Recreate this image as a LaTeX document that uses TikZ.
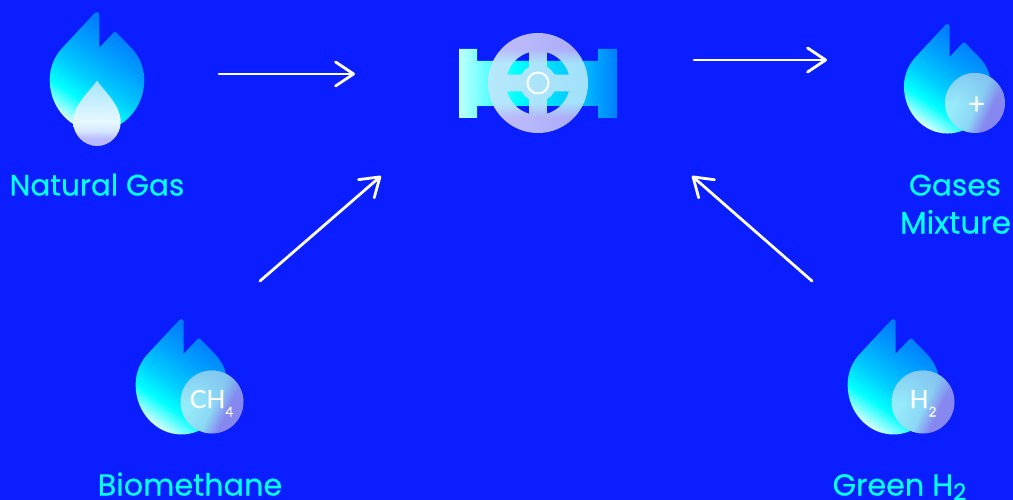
\documentclass[tikz,border=0pt]{standalone}
\usepackage{fontspec}
\setmainfont{Poppins}[FakeBold=0.6]
\newfontfamily\thinfont{Lato}[FakeBold=0.2]
\usetikzlibrary{arrows.meta,fadings}
\definecolor{bgblue}{RGB}{10,30,255}
\definecolor{labelcyan}{RGB}{0,255,255}
\definecolor{paleflame}{RGB}{215,255,255}
\definecolor{lowflame}{RGB}{0,205,255}
\definecolor{midflame}{RGB}{0,160,255}
\definecolor{topflame}{RGB}{0,125,255}
\definecolor{bodymid}{RGB}{0,190,255}
\definecolor{dropa}{RGB}{185,185,255}
\definecolor{dropc}{RGB}{215,232,255}
\definecolor{dropd}{RGB}{230,248,255}
\definecolor{drope}{RGB}{165,230,255}
\definecolor{bubblea}{RGB}{150,235,250}
\definecolor{bubbleb}{RGB}{140,215,245}
\definecolor{bubblec}{RGB}{135,135,240}
\definecolor{bubbletop}{RGB}{120,175,235}
\definecolor{bodypale}{RGB}{190,255,255}
\definecolor{wheelhi}{RGB}{170,170,250}
\definecolor{wheelmid}{RGB}{160,225,250}
\pgfdeclarehorizontalshading{flameshade}{100bp}{
 color(0bp)=(paleflame);
 color(24bp)=(paleflame);
 color(35bp)=(labelcyan);
 color(45bp)=(lowflame);
 color(58bp)=(midflame);
 color(70bp)=(topflame);
 color(100bp)=(topflame)}
\pgfdeclareverticalshading{dropshade}{100bp}{
 color(0bp)=(dropa);
 color(30bp)=(dropa);
 color(37bp)=(dropc);
 color(44bp)=(dropd);
 color(75bp)=(drope);
 color(100bp)=(drope)}
\pgfdeclarehorizontalshading{bubbleshade}{100bp}{
 color(0bp)=(bubblea);
 color(34bp)=(bubblea);
 color(52bp)=(bubbleb);
 color(64bp)=(bubblec);
 color(100bp)=(bubblec)}
\pgfdeclarehorizontalshading{bodyshade}{100bp}{
 color(0bp)=(bodypale);
 color(25bp)=(bodypale);
 color(43bp)=(labelcyan);
 color(64bp)=(bodymid);
 color(75bp)=(topflame);
 color(100bp)=(topflame)}
\pgfdeclareverticalshading{wheelshade}{100bp}{
 color(0bp)=(wheelhi);
 color(33bp)=(wheelhi);
 color(40bp)=(wheelmid);
 color(60bp)=(wheelmid);
 color(67bp)=(wheelhi);
 color(100bp)=(wheelhi)}
\tikzfading[name=fadeleft,left color=transparent!75,right color=transparent!100]
\tikzfading[name=fadetop,top color=transparent!45,bottom color=transparent!100,middle color=transparent!100]
\tikzset{
 flamebody/.pic={\shade[shading=flameshade,shading angle=56]
   (-2,67.3) .. controls (-1,68.3) and (2.3,68.5) .. (2.3,65) -- (2.3,32.3) -- (16.5,47.3)
   .. controls (17.3,48.3) and (18.7,48.3) .. (19.5,47.3) -- (34.7,31.7)
   .. controls (42.5,23.5) and (47.3,12.5) .. (47.3,0)
   .. controls (47.3,-28) and (26,-51) .. (0,-51)
   .. controls (-26,-51) and (-47.3,-28) .. (-47.3,0)
   .. controls (-47.3,12.5) and (-42.5,24.5) .. (-33.6,33.3) -- cycle;},
 bubble/.style={circle,minimum size=#1,inner sep=0pt,shading=bubbleshade,shading angle=-25,text=white},
 flowarrow/.style={draw=white,line width=2.8pt,line cap=round,line join=round,-{Straight Barb[length=18pt,width=24pt,line width=2.8pt,round]}},
 gaslabel/.style={text=labelcyan,font=\fontsize{#1}{36}\selectfont,anchor=base,inner sep=0pt},
 bubbletext/.style={text=white,font=\thinfont\fontsize{25}{25}\selectfont,anchor=base,inner sep=0pt},
}
\begin{document}
\begin{tikzpicture}[x=1pt,y=1pt]
\useasboundingbox (0,-500) rectangle (1013,0);
\fill[bgblue] (0,-500) rectangle (1013,0);
% flames
\pic at (97,-80) {flamebody};
\pic[scale=.92] at (947.5,-86.6) {flamebody};
\pic[scale=.97] at (181.5,-385) {flamebody};
\pic[scale=.97] at (893.5,-385) {flamebody};
% drop
\shade[shading=dropshade]
  (96.7,-81) .. controls (90,-91) and (73,-105) .. (73.2,-122)
  .. controls (73.2,-135) and (84,-146) .. (97,-146)
  .. controls (110,-146) and (120.7,-135) .. (120.7,-122)
  .. controls (120.8,-105) and (104,-91) .. (97.3,-81) -- cycle;
% valve
\shade[shading=bodyshade]
  (459,-49) -- (477,-49) -- (477,-61) -- (598,-61) -- (598,-49) -- (617,-49)
  -- (617,-118) -- (598,-118) -- (598,-106) -- (477,-106) -- (477,-118) -- (459,-118) -- cycle;
\def\wheelpath{
  (538,-83) circle[radius=50]
  (547,-52.3) arc[start angle=73.7,end angle=15.4,radius=32] -- (554.4,-74.5) arc[start angle=27.4,end angle=60.9,radius=18.5] -- cycle
  (547,-113.7) arc[start angle=-73.7,end angle=-15.4,radius=32] -- (554.4,-91.5) arc[start angle=-27.4,end angle=-60.9,radius=18.5] -- cycle
  (529,-52.3) arc[start angle=106.3,end angle=164.6,radius=32] -- (521.6,-74.5) arc[start angle=152.6,end angle=119.1,radius=18.5] -- cycle
  (529,-113.7) arc[start angle=-106.3,end angle=-164.6,radius=32] -- (521.6,-91.5) arc[start angle=-152.6,end angle=-119.1,radius=18.5] -- cycle
}
\shade[even odd rule,shading=wheelshade] \wheelpath;
\fill[even odd rule,white,path fading=fadeleft,fit fading=true] \wheelpath;
\node[circle,draw=white,line width=2pt,minimum size=21pt,inner sep=0pt] (hub) at (538,-83) {};
% connector ends
\coordinate (naturalout) at (219,-74);
\coordinate (valvein) at (355,-74);
\coordinate (valveout) at (694,-60);
\coordinate (mixin) at (827,-60);
\coordinate (bioout) at (260,-281);
\coordinate (valvebio) at (381,-176);
\coordinate (h2out) at (812,-281);
\coordinate (valveh2) at (692,-176);
\draw[flowarrow] (naturalout) -- (valvein);
\draw[flowarrow] (valveout) -- (mixin);
\draw[flowarrow] (bioout) -- (valvebio);
\draw[flowarrow] (h2out) -- (valveh2);
% bubbles
\node[bubble=60pt] (mixbubble) at (975,-103) {};
\node[bubble=63pt] (biobubble) at (212,-402) {};
\node[bubble=63pt] (h2bubble) at (923,-402) {};
\fill[bubbletop,path fading=fadetop] (975,-103) circle[radius=30];
\fill[bubbletop,path fading=fadetop] (212,-402) circle[radius=31.5];
\fill[bubbletop,path fading=fadetop] (923,-402) circle[radius=31.5];
\node[bubbletext,font=\thinfont\fontsize{30}{30}\selectfont] (plus) at (976.5,-114) {+};
\node[bubbletext] (ch) at (211.5,-408) {CH\raisebox{-8.5pt}{\fontsize{13.5}{13.5}\selectfont 4}};
\node[bubbletext] (hh) at (923,-408) {H\raisebox{-8.5pt}{\fontsize{13.5}{13.5}\selectfont 2}};
% labels
\node[gaslabel=29.5] (natural) at (97,-195.5) {Natural Gas};
\node[gaslabel=29.5] (gases) at (955,-195.5) {Gases};
\node[gaslabel=31] (mixture) at (955.5,-233.5) {Mixture};
\node[gaslabel=30.3] (bio) at (190,-495.5) {Biomethane};
\node[gaslabel=30.2] (green) at (899.5,-495.5) {Green H\raisebox{-4.5pt}{\fontsize{23}{23}\selectfont 2}};
\end{tikzpicture}
\end{document}
